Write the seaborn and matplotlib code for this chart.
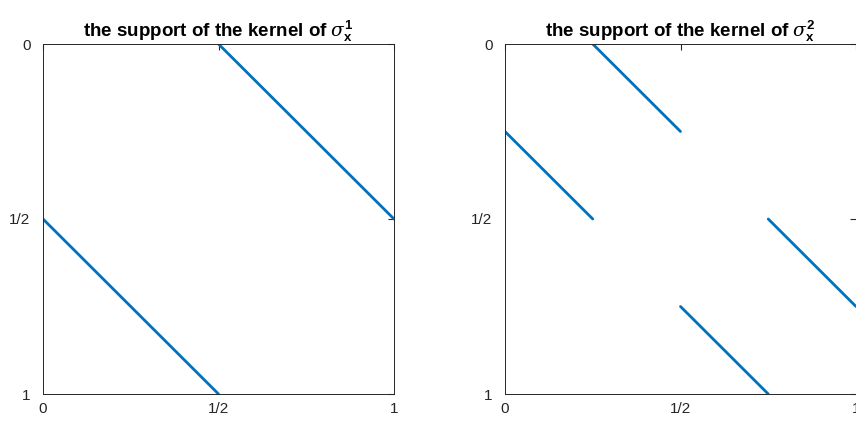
import numpy as np
import pandas as pd
import matplotlib
matplotlib.use("Agg")
import matplotlib.pyplot as plt
import seaborn as sns

sns.set_style("white")
plt.rcParams['font.family'] = ['Liberation Sans', 'DejaVu Sans']
plt.rcParams['mathtext.fontset'] = 'custom'
plt.rcParams['mathtext.rm'] = 'Liberation Sans'
plt.rcParams['mathtext.bf'] = 'Liberation Sans:bold'
plt.rcParams['mathtext.it'] = 'DejaVu Serif:italic'

# segment endpoints for each panel
seg1_x0 = [0.5, 0.0]
seg1_y0 = [0.0, 0.5]
seg1_x1 = [1.0, 0.5]
seg1_y1 = [0.5, 1.0]

seg2_x0 = [0.25, 0.0, 0.75, 0.5]
seg2_y0 = [0.0, 0.25, 0.5, 0.75]
seg2_x1 = [0.5, 0.25, 1.0, 0.75]
seg2_y1 = [0.25, 0.5, 0.75, 1.0]

tick_vals = [0, 0.5, 1]
tick_labels = ['0', '1/2', '1']
titles = [r'the support of the kernel of $\sigma_{\mathbf{x}}^{\mathbf{1}}$',
          r'the support of the kernel of $\sigma_{\mathbf{x}}^{\mathbf{2}}$']

def make_df(x0, y0, x1, y1):
    rows = []
    for i, (a, b, c, d) in enumerate(zip(x0, y0, x1, y1)):
        rows.append(dict(x=a, y=b, seg=i))
        rows.append(dict(x=c, y=d, seg=i))
    return pd.DataFrame(rows)

dfs = [make_df(seg1_x0, seg1_y0, seg1_x1, seg1_y1),
       make_df(seg2_x0, seg2_y0, seg2_x1, seg2_y1)]

W, H = 856, 426
fig = plt.figure(figsize=(W / 100, H / 100), dpi=100)
axes_px = [(43, 44, 351, 350), (505, 44, 351, 350)]
line_color = (0, 0.447, 0.741)
axis_color = (0.15, 0.15, 0.15)

for (lx, ty, w, h), df, title in zip(axes_px, dfs, titles):
    ax = fig.add_axes([lx / W, (H - ty - h) / H, w / W, h / H])
    sns.lineplot(data=df, x='x', y='y', units='seg', estimator=None, sort=False,
                 color=line_color, linewidth=2.0, ax=ax)
    ax.set_xlim(0, 1)
    ax.set_ylim(1, 0)
    ax.set_xticks(tick_vals)
    ax.set_xticklabels(tick_labels)
    ax.set_yticks(tick_vals)
    ax.set_yticklabels(tick_labels)
    ax.set_xlabel('')
    ax.set_ylabel('')
    ax.tick_params(direction='in', length=4, width=0.8, colors=axis_color,
                   labelsize=11, top=True, right=True)
    ax.tick_params(axis='x', pad=6)
    ax.tick_params(axis='y', pad=9)
    for s in ax.spines.values():
        s.set_color(axis_color)
        s.set_linewidth(0.7)
    ax.set_title(title, fontsize=13.5, fontweight='bold', color='black', pad=5)

fig.savefig('out.png', dpi=100)
